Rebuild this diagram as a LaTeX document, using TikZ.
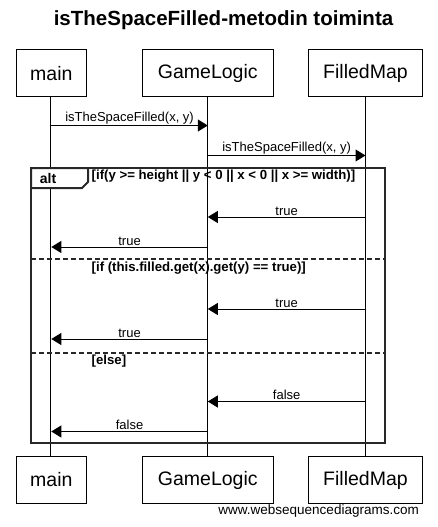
\documentclass[tikz,border=0pt]{standalone}
\usepackage{fontspec}
\setmainfont{Liberation Sans}
\usepackage{tikz}
\usetikzlibrary{arrows.meta, positioning, calc}
\definecolor{framegray}{RGB}{40, 40, 40}

\tikzset{
    actor/.style={draw, line width=1pt, minimum height=46.7pt, inner sep=0pt,
        font=\fontsize{19.5}{20}\selectfont},
    lifeline/.style={line width=1pt},
    msg/.style={line width=1pt, -{Triangle[length=10pt, width=12pt]}},
    msglabel/.style={font=\fontsize{13}{14}\selectfont, inner sep=1pt},
    guard/.style={font=\bfseries\fontsize{13.2}{14}\selectfont, inner sep=0pt, anchor=west},
    altframe/.style={line width=2pt, framegray},
    altsep/.style={line width=2pt, framegray, dash pattern=on 5pt off 3pt}
}

\begin{document}
\begin{tikzpicture}[x=1pt, y=-1pt]
    \useasboundingbox (0,0) rectangle (437,527);

    % Title
    \node[font=\bfseries\fontsize{20.5}{22}\selectfont] (title) at (223.5,20.5) {isTheSpaceFilled-metodin toiminta};

    % ==== Participants (top) ====
    \node[actor, minimum width=70.5pt] (mainT) at (51.3,73.3) {main};
    \node[actor, minimum width=131pt] (glT) at (207.8,73.3) {GameLogic};
    \node[actor, minimum width=114.5pt] (fmT) at (365.5,73.3) {FilledMap};

    % ==== Participants (bottom) ====
    \node[actor, minimum width=70.5pt] (mainB) at (51.3,480) {main};
    \node[actor, minimum width=131pt] (glB) at (207.8,480) {GameLogic};
    \node[actor, minimum width=114.5pt] (fmB) at (365.5,480) {FilledMap};

    % Lifelines
    \draw[lifeline] ($(mainT.south)+(-0.6,0)$) -- ($(mainB.north)+(-0.6,0)$);
    \draw[lifeline] (glT.south) -- (glB.north);
    \draw[lifeline] (fmT.south) -- (fmB.north);

    % Message rows
    \coordinate (c1) at (0,125.5);
    \coordinate (c2) at (0,155.5);
    \coordinate (r1) at (0,217);
    \coordinate (r2) at (0,247);
    \coordinate (r3) at (0,309);
    \coordinate (r4) at (0,339);
    \coordinate (r5) at (0,401.5);
    \coordinate (r6) at (0,431.5);

    % Calls
    \draw[msg] (mainT |- c1) -- (glT |- c1) node[msglabel, midway, above] (l1) {isTheSpaceFilled(x, y)};
    \draw[msg] (glT |- c2) -- (fmT |- c2) node[msglabel, midway, above] (l2) {isTheSpaceFilled(x, y)};

    % ==== alt frame ====
    \draw[altframe] (31,168) rectangle (385,443);
    \draw[altframe, fill=white] (31,168) -- (88,168) -- (88,182) -- (82,188) -- (31,188) -- cycle;
    \node[font=\bfseries\fontsize{14}{15}\selectfont, inner sep=0pt] (alt) at (48,178) {alt};
    \node[guard] (g1) at (91.5,176.5) {[if(y >= height || y < 0 || x < 0 || x >= width)]};

    % Branch 1
    \draw[msg] (fmT |- r1) -- (glT |- r1) node[msglabel, midway, above] (l3) {true};
    \draw[msg] (glT |- r2) -- (mainT |- r2) node[msglabel, midway, above] (l4) {true};

    % Branch 2
    \draw[altsep] (31,259) -- (385,259);
    \node[guard] (g2) at (91.5,268.5) {[if (this.filled.get(x).get(y) == true)]};
    \draw[msg] (fmT |- r3) -- (glT |- r3) node[msglabel, midway, above] (l5) {true};
    \draw[msg] (glT |- r4) -- (mainT |- r4) node[msglabel, midway, above] (l6) {true};

    % Branch 3
    \draw[altsep] (31,352.5) -- (385,352.5);
    \node[guard] (g3) at (91.5,361) {[else]};
    \draw[msg] (fmT |- r5) -- (glT |- r5) node[msglabel, midway, above] (l7) {false};
    \draw[msg] (glT |- r6) -- (mainT |- r6) node[msglabel, midway, above] (l8) {false};

    % Watermark
    \node[font=\fontsize{13.5}{14}\selectfont, anchor=east, inner sep=0pt] (wsd) at (419,511.5) {www.websequencediagrams.com};
\end{tikzpicture}
\end{document}
